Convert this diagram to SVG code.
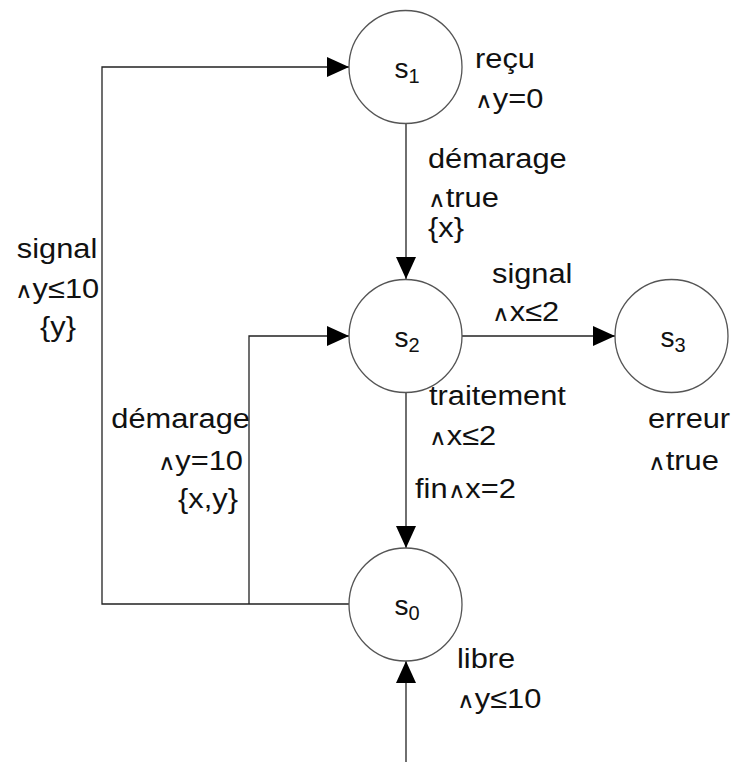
<svg xmlns="http://www.w3.org/2000/svg" width="732" height="762" viewBox="0 0 732 762">
<style>
  .node { fill: #fff; stroke: #555; stroke-width: 1.3; }
  .edge { fill: none; stroke: #222; stroke-width: 1.3; }
  .lbl { font-family: "Liberation Sans", Arial, sans-serif; font-size: 28px; fill: #111; }
  .nl { font-family: "Liberation Sans", Arial, sans-serif; font-size: 28px; fill: #111; }
  .sub { font-size: 20px; }
  .and { font-family: "DejaVu Sans", sans-serif; font-size: 22px; font-weight: 300; }
</style>
<defs>
  <marker id="arr" viewBox="0 0 22 20" refX="22" refY="10" markerWidth="22" markerHeight="20" markerUnits="userSpaceOnUse" orient="auto">
    <path d="M0,0 L22,10 L0,20 z" fill="#000"/>
  </marker>
</defs>
<g id="connectors">
  <path class="edge" d="M406,123 L406,279" marker-end="url(#arr)"/>
  <path class="edge" d="M462,336 L615,336" marker-end="url(#arr)"/>
  <path class="edge" d="M406,392 L406,548" marker-end="url(#arr)"/>
  <path class="edge" d="M406,762 L406,661" marker-end="url(#arr)"/>
  <path class="edge" d="M349,604 L102,604 L102,67 L349,67" marker-end="url(#arr)"/>
  <path class="edge" d="M249,604 L249,336 L349,336" marker-end="url(#arr)"/>
  <text class="lbl" transform="translate(428,168) scale(1.1,1)">démarage</text>
  <text class="lbl" transform="translate(428,207) scale(1.1,1)"><tspan class="and">∧</tspan>true</text>
  <text class="lbl" transform="translate(428,237) scale(1.1,1)">{x}</text>
  <text class="lbl" transform="translate(492,283) scale(1.1,1)">signal</text>
  <text class="lbl" transform="translate(492,321) scale(1.1,1)"><tspan class="and">∧</tspan>x≤2</text>
  <text class="lbl" transform="translate(429,405) scale(1.1,1)">traitement</text>
  <text class="lbl" transform="translate(429,445) scale(1.1,1)"><tspan class="and">∧</tspan>x≤2</text>
  <text class="lbl" transform="translate(415,498) scale(1.1,1)">fin<tspan class="and">∧</tspan>x=2</text>
  <text class="lbl" text-anchor="middle" transform="translate(57,258) scale(1.1,1)">signal</text>
  <text class="lbl" text-anchor="middle" transform="translate(57,298) scale(1.1,1)"><tspan class="and">∧</tspan>y≤10</text>
  <text class="lbl" text-anchor="middle" transform="translate(58,336) scale(1.1,1)">{y}</text>
  <text class="lbl" text-anchor="end" transform="translate(250,428) scale(1.1,1)">démarage</text>
  <text class="lbl" text-anchor="end" transform="translate(243,470) scale(1.1,1)"><tspan class="and">∧</tspan>y=10</text>
  <text class="lbl" text-anchor="end" transform="translate(238,508) scale(1.1,1)">{x,y}</text>
</g>
<g id="s1">
  <circle class="node" cx="405.5" cy="67" r="56.5"/>
  <text class="nl" text-anchor="middle" x="407" y="78">s<tspan class="sub" dy="5">1</tspan></text>
  <text class="lbl" transform="translate(475,68) scale(1.1,1)">reçu</text>
  <text class="lbl" transform="translate(475,108) scale(1.1,1)"><tspan class="and">∧</tspan>y=0</text>
</g>
<g id="s2">
  <circle class="node" cx="405.5" cy="336" r="56.5"/>
  <text class="nl" text-anchor="middle" x="407" y="347">s<tspan class="sub" dy="5">2</tspan></text>
</g>
<g id="s3">
  <circle class="node" cx="671.5" cy="336" r="56.5"/>
  <text class="nl" text-anchor="middle" x="673" y="347">s<tspan class="sub" dy="5">3</tspan></text>
  <text class="lbl" transform="translate(648,428) scale(1.1,1)">erreur</text>
  <text class="lbl" transform="translate(648,470) scale(1.1,1)"><tspan class="and">∧</tspan>true</text>
</g>
<g id="s0">
  <circle class="node" cx="405.5" cy="604.5" r="56.5"/>
  <text class="nl" text-anchor="middle" x="407" y="615">s<tspan class="sub" dy="5">0</tspan></text>
  <text class="lbl" transform="translate(457,668) scale(1.1,1)">libre</text>
  <text class="lbl" transform="translate(457,708) scale(1.1,1)"><tspan class="and">∧</tspan>y≤10</text>
</g>
</svg>
